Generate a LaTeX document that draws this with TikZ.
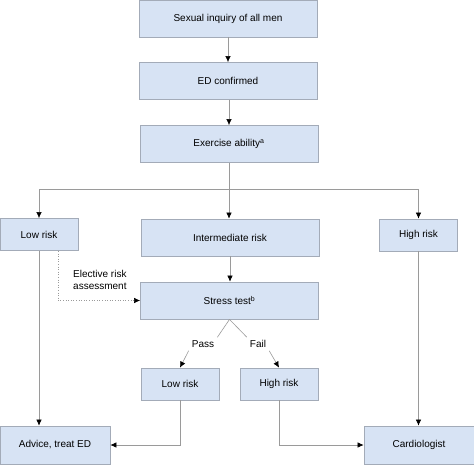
\documentclass[tikz,border=0pt]{standalone}
\usepackage{fontspec}
\setmainfont{Liberation Sans}
\usetikzlibrary{arrows.meta}
\definecolor{boxfill}{HTML}{D7E3F4}
\definecolor{boxline}{HTML}{A3ABB8}
\definecolor{wire}{HTML}{9A9A9A}
\begin{document}
\begin{tikzpicture}[x=1pt, y=-1pt, font=\fontsize{10}{12.5}\selectfont,
    box/.style={draw=boxline, fill=boxfill, line width=0.8pt, inner sep=0pt},
    wide/.style={box, minimum width=178pt, minimum height=37pt},
    small/.style={box, minimum width=78pt, minimum height=32pt},
    last/.style={box, minimum width=110pt, minimum height=38pt},
    arr/.style={draw=wire, line width=0.6pt, -{Latex[black, length=6pt, width=5.5pt]}},
    wire/.style={draw=wire, line width=0.6pt}]
  \useasboundingbox (0,0) rectangle (474,464);
  \node[wide] (inquiry) at (228,18.5) {Sexual inquiry of all men};
  \node[wide] (confirmed) at (228,81) {ED confirmed};
  \node[wide] (exercise) at (229,144) {Exercise ability\textsuperscript{a}};
  \node[small] (lowrisk) at (39,234.5) {Low risk};
  \node[wide] (intermediate) at (230,237.5) {Intermediate risk};
  \node[small] (highrisk) at (418.5,235) {High risk};
  \node[wide] (stress) at (229.5,300.5) {Stress test\textsuperscript{b}};
  \node[small] (lowpass) at (180,384) {Low risk};
  \node[small] (highfail) at (279,384) {High risk};
  \node[last] (advice) at (55,445) {Advice, treat ED};
  \node[last] (cardio) at (419,445) {Cardiologist};
  \node[align=left, anchor=west, inner sep=0pt] (elective) at (73,280) {Elective risk\\assessment};
  \node[inner sep=2pt] (pass) at (203,344) {Pass};
  \node[inner sep=2pt] (fail) at (258,344) {Fail};
  \coordinate (split) at (229,189);
  \coordinate (vtop) at (stress.south);
  \draw[arr] (inquiry) -- (confirmed);
  \draw[arr] (confirmed.south -| exercise.north) -- (exercise);
  \draw[wire] (exercise) -- (split);
  \draw[arr] (split) -| (lowrisk);
  \draw[arr] (split) -- (split |- intermediate.north);
  \draw[arr] (split) -| (highrisk);
  \draw[arr] (intermediate) -- (intermediate.south |- stress.north);
  \draw[arr, dotted] ([xshift=19pt]lowrisk.south) |- (stress.west);
  \draw[wire] (vtop) -- ([xshift=1pt, yshift=1pt]pass.north east);
  \draw[wire] (vtop) -- ([xshift=-1pt, yshift=1pt]fail.north west);
  \draw[arr] ([xshift=-1pt, yshift=-1pt]pass.south west) -- (lowpass.north);
  \draw[arr] ([xshift=1pt, yshift=-1pt]fail.south east) -- (highfail.north);
  \draw[arr] (lowrisk) -- (lowrisk.south |- advice.north);
  \draw[arr] (highrisk) -- (highrisk.south |- cardio.north);
  \draw[arr] (lowpass) |- (advice);
  \draw[arr] (highfail) |- (cardio);
\end{tikzpicture}
\end{document}
